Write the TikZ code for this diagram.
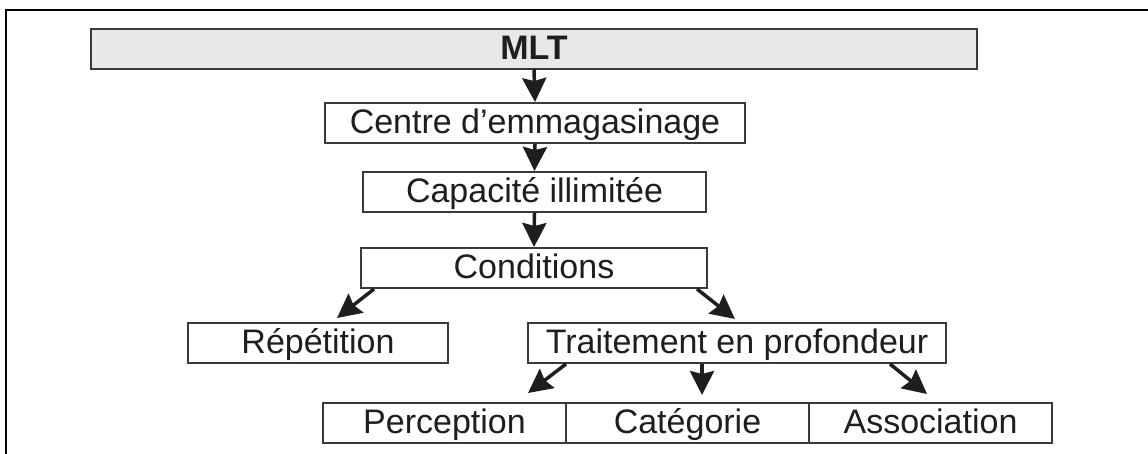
\documentclass[tikz,border=0pt]{standalone}
\usepackage{fontspec}
\setmainfont{Liberation Sans}
\usetikzlibrary{arrows.meta}
\definecolor{mInk}{HTML}{1E1E1E}
\definecolor{mLine}{HTML}{3A3A3A}
\definecolor{mShade}{HTML}{E8E8EB}
\tikzset{
  nd/.style  = {draw=mLine, line width=2pt, fill=white, inner sep=0pt,
                minimum height=40pt, text height=24pt, text depth=3pt,
                font=\fontsize{34}{40}\selectfont, text=mInk},
  ndh/.style = {nd, fill=mShade, font=\fontsize{34}{40}\selectfont\bfseries},
  ar/.style  = {-{Stealth[length=24pt,width=24pt,inset=3pt]}, draw=mInk,
                line width=3.5pt},
}

\begin{document}
\begin{tikzpicture}[x=1pt, y=-1pt]
  \useasboundingbox (0,0) rectangle (1148,453);
  % frame, cut by the page on the right and at the bottom
  \draw[line width=2.5pt, black] (6,470) -- (6,10) -- (1170,10);

  \node[ndh, minimum width=886pt] (mlt)   at (534,48.5)  {MLT};
  \node[nd,  minimum width=420pt] (cen)   at (535,123)   {Centre d’emmagasinage};
  \node[nd,  minimum width=343pt] (cap)   at (534.5,192) {Capacité illimitée};
  \node[nd,  minimum width=346pt] (cond)  at (534,268)   {Conditions};
  \node[nd,  minimum width=260pt] (rep)   at (318,343)   {Répétition};
  \node[nd,  minimum width=418pt] (trt)   at (737,343)   {Traitement en profondeur};
  \node[nd,  minimum width=243pt] (perc)  at (444.5,423) {Perception};
  \node[nd,  minimum width=243pt] (cat)   at (687.5,423) {Catégorie};
  \node[nd,  minimum width=243pt] (assoc) at (930.5,423) {Association};

  \draw[ar] (mlt.south) -- (cen.north);
  \draw[ar] (cen.south) -- (cap.north);
  \draw[ar] (cap.south) -- (cond.north);
  \draw[ar] ([xshift=-160pt]cond.south) -- ([xshift=19pt, yshift=4pt]rep.north);
  \draw[ar] ([xshift=163pt]cond.south)  -- ([xshift=-2pt, yshift=3pt]trt.north);
  \draw[ar] ([xshift=-171pt]trt.south)  -- ([xshift=83.5pt, yshift=9pt]perc.north);
  \draw[ar] ([xshift=-35pt]trt.south)   -- ([xshift=14.5pt, yshift=7pt]cat.north);
  \draw[ar] ([xshift=153pt]trt.south)   -- ([xshift=-3.5pt, yshift=8pt]assoc.north);
\end{tikzpicture}
\end{document}
